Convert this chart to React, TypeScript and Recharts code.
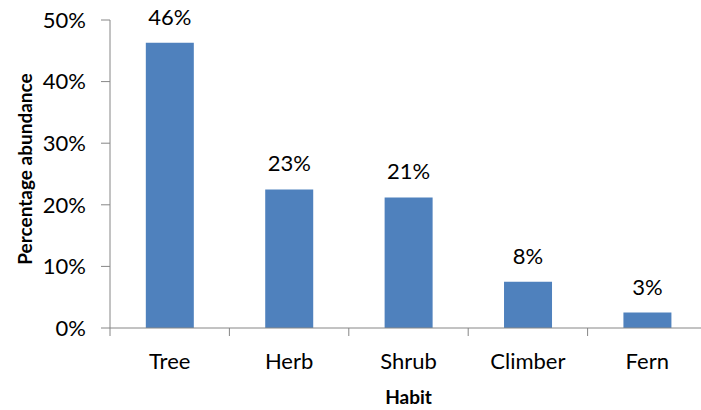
import { Bar, BarChart, LabelList, XAxis, YAxis } from "recharts";

// Share of species by growth habit (%).
const habits = ["Tree", "Herb", "Shrub", "Climber", "Fern"];
const abundance = [46.3, 22.5, 21.2, 7.5, 2.5];
const percentTicks = [0, 10, 20, 30, 40, 50];

const data = habits.map((habit, i) => ({ habit, value: abundance[i] }));

const AXIS = "#868686";
const BAR = "#4F81BD";
const FONT = "Lato, 'Liberation Sans', sans-serif";

// Category label centred in its band, with the tick mark on the band's left edge.
function HabitTick(props: any) {
  const { x, y, payload, width, visibleTicksCount } = props;
  const half = width && visibleTicksCount ? width / visibleTicksCount / 2 : 0;
  return (
    <g>
      <line x1={x - half} x2={x - half} y1={y} y2={y + 8} stroke={AXIS} />
      <text x={x} y={y + 41} textAnchor="middle" fontSize={22} fill="#000">
        {payload.value}
      </text>
    </g>
  );
}

function YTitle(props: any) {
  const vb = props.viewBox;
  const cx = vb.x + 24;
  const cy = vb.y + vb.height / 2 - 5;
  return (
    <text
      x={cx}
      y={cy}
      transform={`rotate(-90 ${cx} ${cy})`}
      textAnchor="middle"
      dominantBaseline="central"
      fontSize={19}
      fontWeight="bold"
      fill="#000"
    >
      Percentage abundance
    </text>
  );
}

function XTitle(props: any) {
  const vb = props.viewBox;
  return (
    <text
      x={vb.x + vb.width / 2}
      y={vb.y + 76}
      textAnchor="middle"
      fontSize={19}
      fontWeight="bold"
      fill="#000"
    >
      Habit
    </text>
  );
}

export default function App() {
  return (
    <div
      style={{
        position: "absolute",
        left: 0,
        top: 0,
        width: 701,
        height: 410,
        overflow: "hidden",
        background: "#fff",
        fontFamily: FONT,
      }}
    >
      <BarChart
        width={710}
        height={410}
        data={data}
        margin={{ top: 20, right: 3, bottom: 0, left: 0 }}
        barCategoryGap="30%"
      >
        <XAxis
          dataKey="habit"
          height={82}
          stroke={AXIS}
          tickLine={false}
          tickSize={0}
          tickMargin={0}
          tick={<HabitTick />}
          interval={0}
          label={{ content: <XTitle /> }}
        />
        <YAxis
          width={110}
          domain={[0, 50]}
          ticks={percentTicks}
          tickFormatter={(v: number) => `${v}%`}
          stroke={AXIS}
          tickSize={9}
          tickMargin={15}
          tick={{ fontSize: 22, fill: "#000" }}
          label={{ content: <YTitle /> }}
        />
        <Bar dataKey="value" fill={BAR} isAnimationActive={false}>
          <LabelList
            dataKey="value"
            position="top"
            offset={18}
            fontSize={22}
            fill="#000"
            formatter={(v: any) => `${Math.round(Number(v))}%`}
          />
        </Bar>
      </BarChart>
    </div>
  );
}
